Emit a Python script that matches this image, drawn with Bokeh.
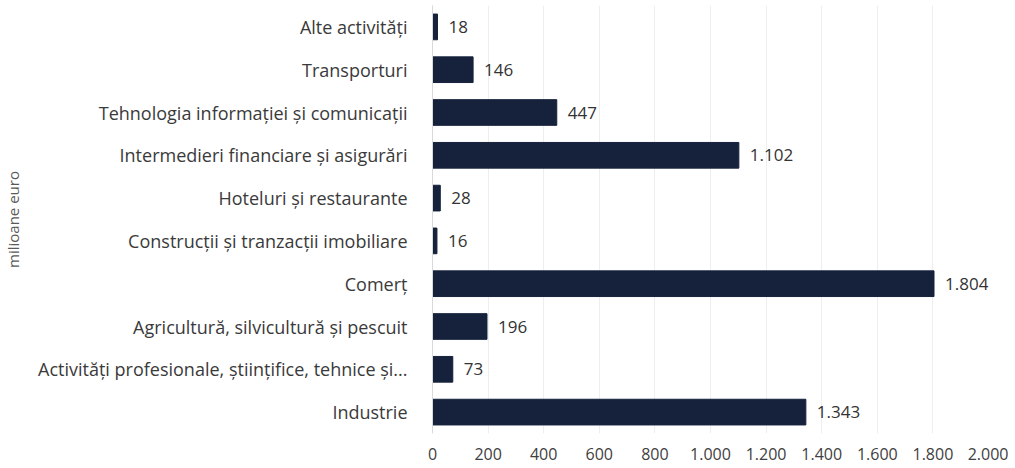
from bokeh.plotting import figure
from bokeh.models import ColumnDataSource, FactorRange, Range1d, FixedTicker, LabelSet
from bokeh.core.properties import value
from bokeh.embed import file_html
from bokeh.resources import INLINE

categories = [
    "Alte activități",
    "Transporturi",
    "Tehnologia informației și comunicații",
    "Intermedieri financiare și asigurări",
    "Hoteluri și restaurante",
    "Construcții și tranzacții imobiliare",
    "Comerț",
    "Agricultură, silvicultură și pescuit",
    "Activități profesionale, științifice, tehnice și...",
    "Industrie",
]
values = [18, 146, 447, 1102, 28, 16, 1804, 196, 73, 1343]
tick_values = [0, 200, 400, 600, 800, 1000, 1200, 1400, 1600, 1800, 2000]
tick_labels = ["0", "200", "400", "600", "800", "1.000", "1.200", "1.400", "1.600", "1.800", "2.000"]

FONT = "Open Sans"
BAR = "#16223c"

labels = [f"{v:,}".replace(",", ".") for v in values]
src = ColumnDataSource(dict(cat=categories, val=values, lab=labels))

p = figure(
    width=1008, height=463,
    y_range=FactorRange(*reversed(categories)),
    x_range=Range1d(0, 2000),
    output_backend="svg", toolbar_location=None,
    min_border_top=5, min_border_right=20, min_border_bottom=30, min_border_left=428,
)
p.hbar(y="cat", right="val", height=0.6, source=src, color=BAR)
p.add_layout(LabelSet(x="val", y="cat", text="lab", source=src, x_offset=11,
                      text_baseline="middle", text_font=value(FONT), text_font_size="17px",
                      text_color="#333333"))

p.outline_line_color = None
p.ygrid.grid_line_color = None
p.xgrid.grid_line_color = "#eeeeee"
p.xgrid.ticker = FixedTicker(ticks=tick_values)

xa = p.xaxis[0]
xa.ticker = FixedTicker(ticks=tick_values)
xa.major_label_overrides = {t: l for t, l in zip(tick_values, tick_labels)}
xa.axis_line_color = None
xa.major_tick_line_color = None
xa.minor_tick_line_color = None
xa.major_label_standoff = 8
xa.major_label_text_font = FONT
xa.major_label_text_font_size = "16px"
xa.major_label_text_color = "#404040"

ya = p.yaxis[0]
ya.axis_line_color = "#d9d9d9"
ya.major_tick_line_color = None
ya.minor_tick_line_color = None
ya.major_label_standoff = 19
ya.major_label_text_font = FONT
ya.major_label_text_font_size = "18px"
ya.major_label_text_color = "#3a3a3a"
ya.axis_label = "milioane euro"
ya.axis_label_text_font = FONT
ya.axis_label_text_font_size = "15px"
ya.axis_label_text_font_style = "normal"
ya.axis_label_text_color = "#595959"
ya.axis_label_standoff = 12

open("out.html", "w").write(file_html(p, INLINE))
